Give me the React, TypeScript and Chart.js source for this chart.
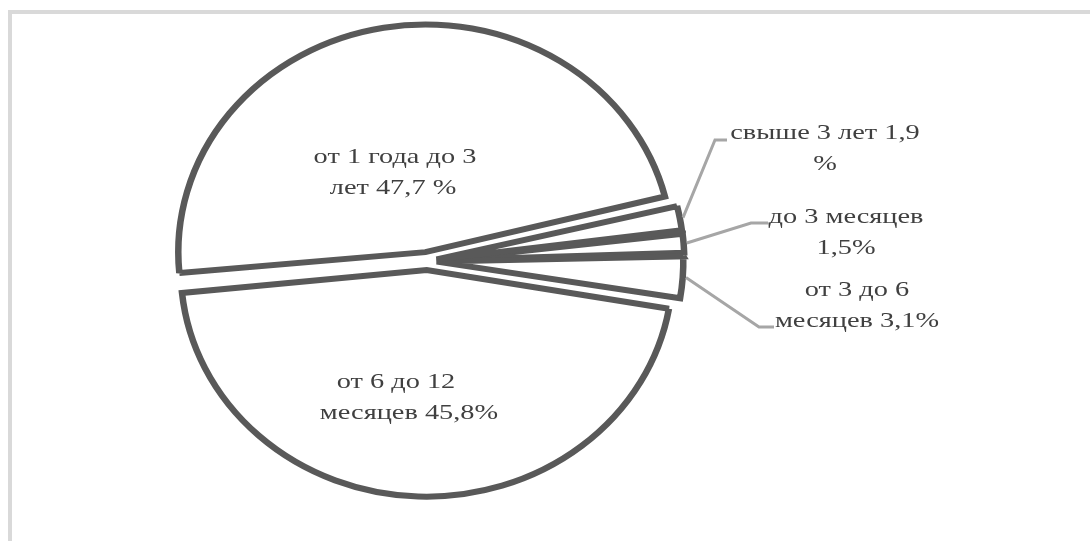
import React, { useEffect, useRef } from 'react';
import { Chart, registerables } from 'chart.js';

Chart.register(...registerables);

// ---- data ----
const categories = [
  'до 3 месяцев',
  'от 3 до 6 месяцев',
  'от 6 до 12 месяцев',
  'от 1 года до 3 лет',
  'свыше 3 лет',
];
const shares = [1.5, 3.1, 45.8, 47.7, 1.9];
const labelLines = [
  ['до 3 месяцев', '1,5%'],
  ['от 3 до 6', 'месяцев 3,1%'],
  ['от 6 до 12', 'месяцев 45,8%'],
  ['от 1 года до 3', 'лет 47,7 %'],
  ['свыше 3 лет 1,9', '%'],
];

// ---- layout / style ----
const W = 1090;
const H = 541;
const STRETCH_X = 1.085;
const CENTER = { x: 427, y: 261 };
const RADIUS = 220;
const BORDER = 6;
const OFFSET = 36;
const ROTATION = 83;
const FONT = '21px "Liberation Serif", "Times New Roman", serif';
const TEXT_STRETCH = 1.35;
const LINE_HEIGHT = 31;
const TEXT_COLOR = '#404040';
// centre x of each line, baseline of first line
const LABEL_POS = [
  { xs: [846, 846], y: 223 },
  { xs: [857, 857], y: 296 },
  { xs: [396, 409], y: 388 },
  { xs: [395, 393], y: 163 },
  { xs: [825, 825], y: 139 },
];
const LEADERS: ({ elbow: [number, number]; end: [number, number] } | null)[] = [
  { elbow: [751, 223], end: [768, 223] },
  { elbow: [759, 327], end: [774, 327] },
  null,
  null,
  { elbow: [715, 140], end: [727, 140] },
];

const stretchPlugin = {
  id: 'stretchX',
  beforeDatasetsDraw(chart: any) {
    const ctx = chart.ctx;
    ctx.save();
    ctx.miterLimit = 2;
    ctx.translate(CENTER.x, 0);
    ctx.scale(STRETCH_X, 1);
    ctx.translate(-CENTER.x, 0);
  },
  afterDatasetsDraw(chart: any) {
    chart.ctx.restore();
  },
};

const labelPlugin = {
  id: 'sliceLabels',
  afterDraw(chart: any) {
    const ctx: CanvasRenderingContext2D = chart.ctx;
    const meta = chart.getDatasetMeta(0);
    ctx.save();
    ctx.strokeStyle = '#a6a6a6';
    ctx.lineWidth = 3;
    ctx.lineJoin = 'miter';
    meta.data.forEach((arc: any, i: number) => {
      const L = LEADERS[i];
      if (!L) return;
      const { x, y, startAngle, endAngle, outerRadius } = arc.getProps(
        ['x', 'y', 'startAngle', 'endAngle', 'outerRadius'],
        true
      );
      const mid = (startAngle + endAngle) / 2;
      const circ = endAngle - startAngle;
      const fix = 1 - Math.sin(Math.min(Math.PI, circ));
      const shift = (OFFSET / 4) * (1 + fix);
      const r = shift + outerRadius + BORDER / 2;
      const lx = x + Math.cos(mid) * r;
      const ly = y + Math.sin(mid) * r;
      const sx = CENTER.x + STRETCH_X * (lx - CENTER.x);
      ctx.beginPath();
      ctx.moveTo(sx, ly);
      ctx.lineTo(L.elbow[0], L.elbow[1]);
      ctx.lineTo(L.end[0], L.end[1]);
      ctx.stroke();
    });
    ctx.fillStyle = TEXT_COLOR;
    ctx.font = FONT;
    ctx.textAlign = 'center';
    ctx.textBaseline = 'alphabetic';
    labelLines.forEach((lines, i) => {
      const p = LABEL_POS[i];
      lines.forEach((line, j) => {
        ctx.save();
        ctx.translate(p.xs[j], p.y + j * LINE_HEIGHT);
        ctx.scale(TEXT_STRETCH, 1);
        ctx.fillText(line, 0, 0);
        ctx.restore();
      });
    });
    ctx.restore();
  },
};

export default function App() {
  const canvasRef = useRef<HTMLCanvasElement | null>(null);

  useEffect(() => {
    if (!canvasRef.current) return;
    let alive = true;
    const chart = new Chart(canvasRef.current, {
      type: 'pie',
      data: {
        labels: categories,
        datasets: [
          {
            data: shares,
            backgroundColor: '#ffffff',
            borderColor: '#595959',
            borderWidth: BORDER,
            borderJoinStyle: 'miter',
            offset: OFFSET,
            radius: RADIUS,
            clip: false,
          } as any,
        ],
      },
      options: {
        animation: false,
        responsive: false,
        devicePixelRatio: 1,
        rotation: ROTATION,
        events: [],
        layout: {
          padding: { left: 0, top: 0, right: W - 2 * CENTER.x, bottom: H - 2 * CENTER.y },
        },
        plugins: {
          legend: { display: false },
          tooltip: { enabled: false },
        },
      } as any,
      plugins: [stretchPlugin, labelPlugin],
    });
    if ((document as any).fonts && (document as any).fonts.load) {
      (document as any).fonts.load('21px "Liberation Serif"').then(() => {
        if (alive) chart.draw();
      }, () => {});
    }
    return () => {
      alive = false;
      chart.destroy();
    };
  }, []);

  return (
    <div
      style={{
        position: 'absolute',
        left: 0,
        top: 0,
        width: W,
        height: H,
        overflow: 'hidden',
        background: '#ffffff',
      }}
    >
      <div
        style={{
          position: 'absolute',
          left: 8,
          top: 10,
          right: 0,
          bottom: 0,
          borderTop: '4px solid #d9d9d9',
          borderLeft: '4px solid #d9d9d9',
        }}
      />
      <canvas
        ref={canvasRef}
        width={W}
        height={H}
        style={{ position: 'absolute', left: 0, top: 0, display: 'block' }}
      />
    </div>
  );
}
